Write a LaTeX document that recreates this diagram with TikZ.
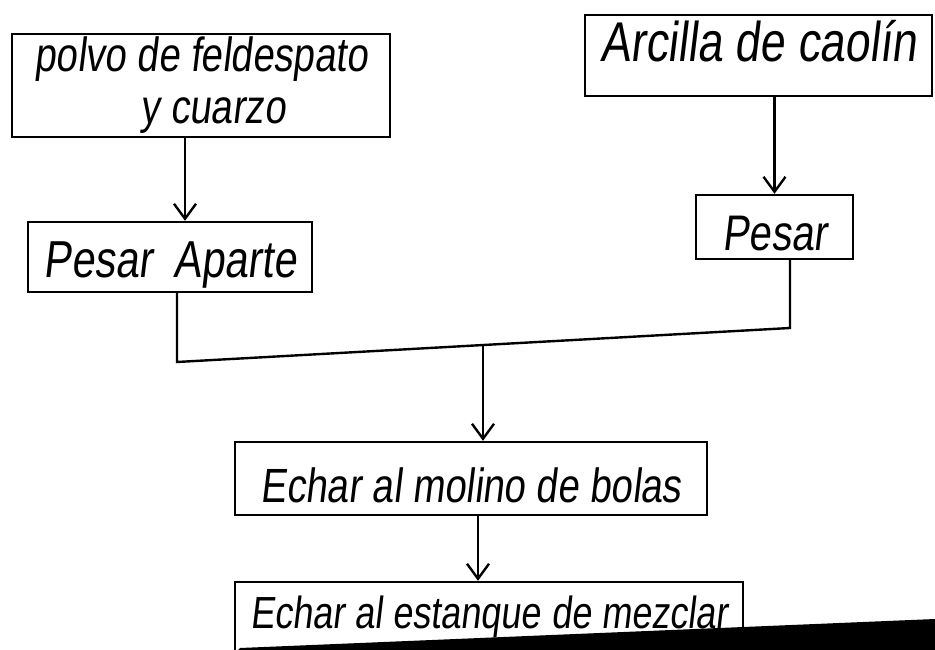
\documentclass[tikz,border=0pt]{standalone}
\usepackage{fontspec}
\newfontfamily\handfont[FakeStretch=0.8,FakeSlant=0.12]{Liberation Sans}
\usetikzlibrary{arrows.meta}
\begin{document}
\begin{tikzpicture}[x=1pt,y=-1pt,
  box/.style={draw, line width=2.4pt, inner sep=0pt},
  arr/.style={line width=2.4pt, -{Straight Barb[length=15pt,width=22pt,line width=2.4pt]}},
  link/.style={line width=2.4pt},
  hand/.style={font=\handfont\fontsize{#1}{40}\selectfont}]
\useasboundingbox (0,0) rectangle (935,650);
\clip (0,0) rectangle (935,650);
\fill[white] (0,0) rectangle (935,650);

\node[box, hand=48, minimum width=378pt, minimum height=103pt, align=center] (B1) at (201,85.5)
  {polvo de feldespato\\[12pt]\hspace*{24pt}y cuarzo};
\node[box, hand=56, minimum width=347pt, text height=47pt, text depth=34pt] (B2) at (758.5,55.5)
  {Arcilla de caolín};
\node[box, hand=52, minimum width=284pt, text height=55pt, text depth=15pt] (B3) at (170,257)
  {Pesar\hspace{10pt} Aparte};
\node[box, hand=50, minimum width=157pt, text height=55pt, text depth=9pt] (B4) at (774.5,227)
  {Pesar};
\node[box, hand=48, minimum width=472pt, text height=60pt, text depth=13pt] (B5) at (471,478.5)
  {Echar al molino de bolas};
\node[box, hand=45, minimum width=508pt, text height=46pt, text depth=37pt] (B6) at (489,623.5)
  {Echar al estanque de mezclar};

\draw[arr] ([xshift=-16pt]B1.south) -- ([xshift=-16pt]B1.south |- B3.north);
\draw[arr] (B2.south -| B4.north) -- (B4.north);

\coordinate (jl) at (177,362);
\coordinate (jr) at (790,328);
\coordinate (J) at (483,345);
\draw[link] (B3.south -| jl) -- (jl) -- (jr) -- (B4.south -| jr);
\draw[arr] (J) -- (J |- B5.north);
\draw[arr] ([xshift=7pt]B5.south) -- ([xshift=7pt]B5.south |- B6.north);

\fill[black] (232,656) -- (240,648) -- (935,619) -- (935,656) -- cycle;
\end{tikzpicture}
\end{document}
